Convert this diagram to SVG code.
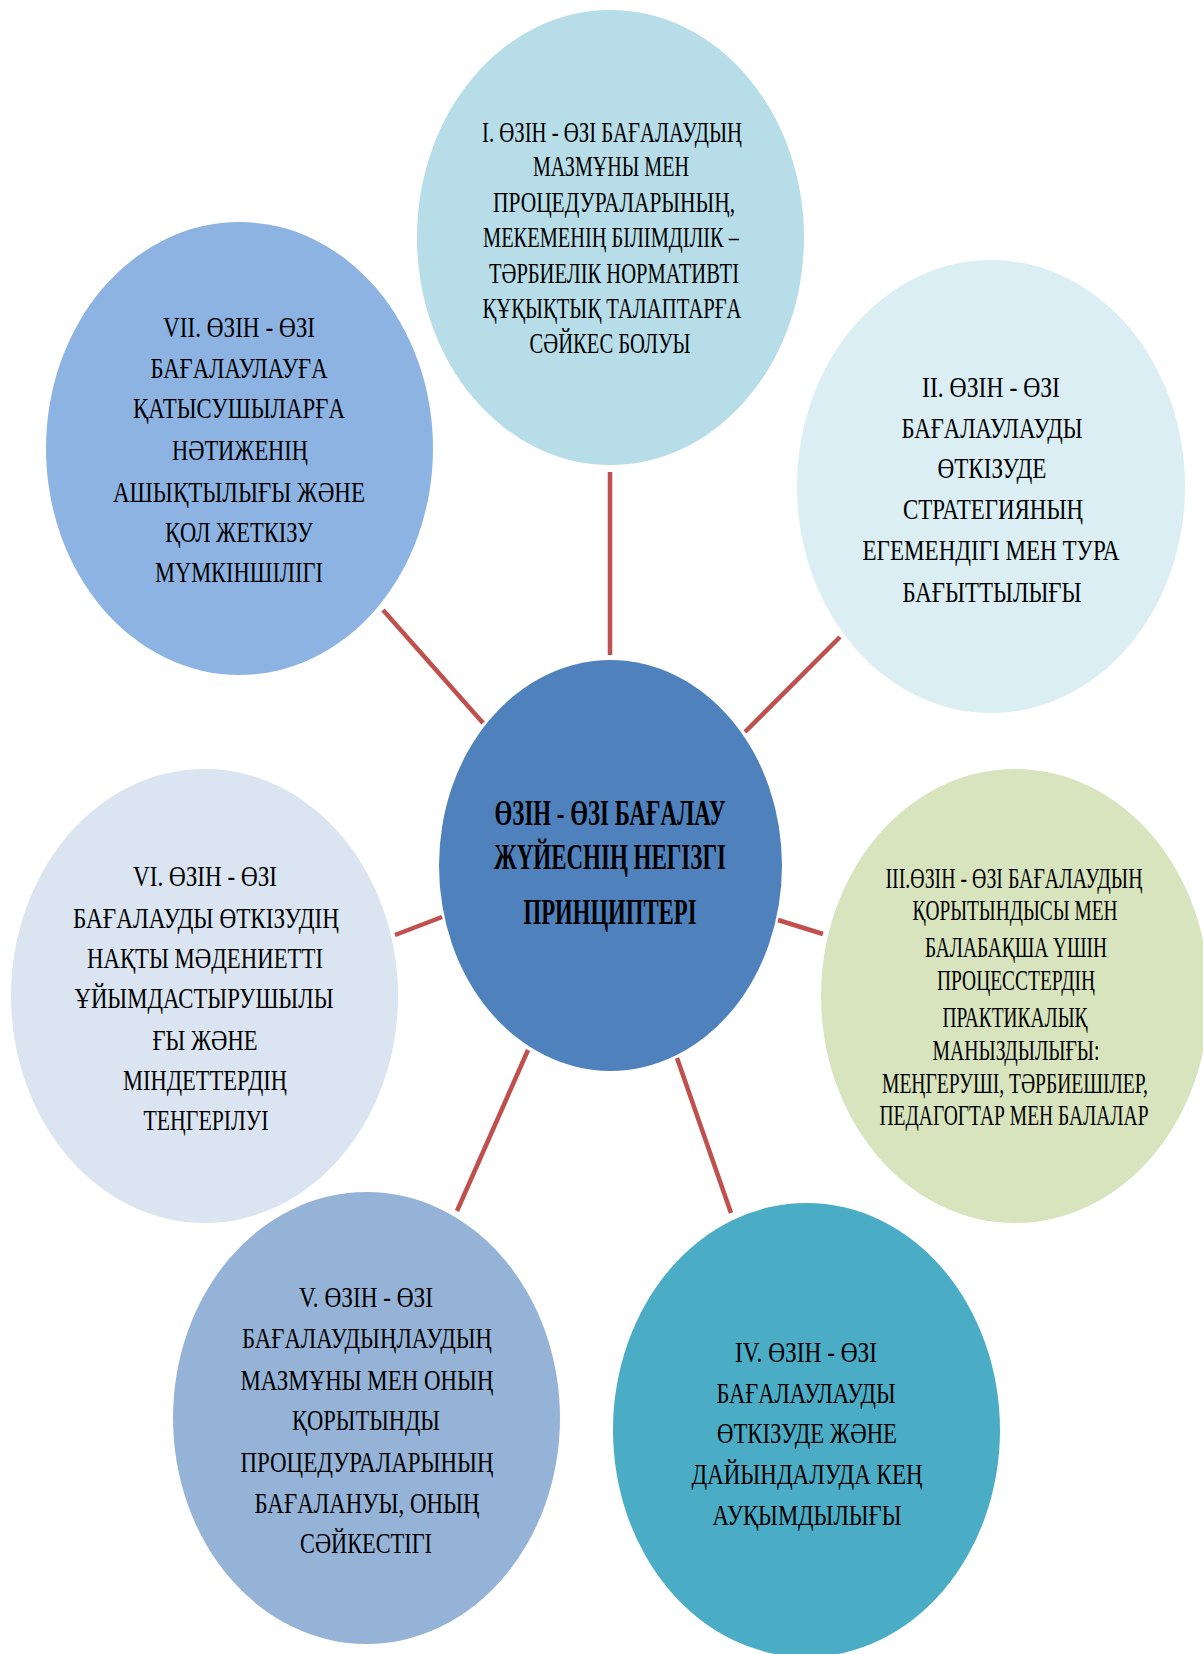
<svg xmlns="http://www.w3.org/2000/svg" width="1203" height="1654" viewBox="0 0 1203 1654">
<style>
.t{font-family:"Liberation Serif","DejaVu Serif",serif;font-size:29px;fill:#000;text-anchor:middle}
.c{font-family:"Liberation Serif","DejaVu Serif",serif;font-size:36px;font-weight:bold;fill:#000;text-anchor:middle}
.ln{stroke:#C0504D;stroke-width:4.5;fill:none}
</style>
<rect width="1203" height="1654" fill="#fff"/>
<g id="connectors">
<line class="ln" x1="610" y1="472" x2="610" y2="655"/>
<line class="ln" x1="840" y1="637" x2="745" y2="732"/>
<line class="ln" x1="383" y1="610" x2="483" y2="723"/>
<line class="ln" x1="778" y1="920" x2="823" y2="934"/>
<line class="ln" x1="395" y1="935" x2="442" y2="917"/>
<line class="ln" x1="528" y1="1050" x2="457" y2="1211"/>
<line class="ln" x1="677" y1="1058" x2="731" y2="1213"/>
</g>
<g id="node-center">
<ellipse cx="610.5" cy="865.5" rx="171.5" ry="205.5" fill="#4F81BD"/>
<text class="c" x="610" y="825" textLength="231" lengthAdjust="spacingAndGlyphs">ӨЗІН - ӨЗІ БАҒАЛАУ</text>
<text class="c" x="610" y="869" textLength="232" lengthAdjust="spacingAndGlyphs">ЖҮЙЕСНІҢ  НЕГІЗГІ</text>
<text class="c" x="610" y="924" textLength="173" lengthAdjust="spacingAndGlyphs">ПРИНЦИПТЕРІ</text>
</g>
<g id="node-1">
<ellipse cx="610.5" cy="237.5" rx="193.5" ry="227.5" fill="#B7DDE8"/>
<text class="t" x="612" y="142" textLength="260" lengthAdjust="spacingAndGlyphs">І. ӨЗІН - ӨЗІ БАҒАЛАУДЫҢ</text>
<text class="t" x="611" y="176" textLength="156" lengthAdjust="spacingAndGlyphs">МАЗМҰНЫ МЕН</text>
<text class="t" x="614" y="212" textLength="242" lengthAdjust="spacingAndGlyphs">ПРОЦЕДУРАЛАРЫНЫҢ,</text>
<text class="t" x="611" y="247" textLength="256" lengthAdjust="spacingAndGlyphs">МЕКЕМЕНІҢ БІЛІМДІЛІК –</text>
<text class="t" x="614" y="283" textLength="250" lengthAdjust="spacingAndGlyphs">ТӘРБИЕЛІК НОРМАТИВТІ</text>
<text class="t" x="612" y="318" textLength="259" lengthAdjust="spacingAndGlyphs">ҚҰҚЫҚТЫҚ ТАЛАПТАРҒА</text>
<text class="t" x="610" y="353" textLength="161" lengthAdjust="spacingAndGlyphs">СӘЙКЕС БОЛУЫ</text>
</g>
<g id="node-2">
<ellipse cx="991" cy="486.5" rx="194" ry="226.5" fill="#DAEEF3"/>
<text class="t" x="991" y="397" textLength="138" lengthAdjust="spacingAndGlyphs">ІІ. ӨЗІН - ӨЗІ</text>
<text class="t" x="992" y="438" textLength="181" lengthAdjust="spacingAndGlyphs">БАҒАЛАУЛАУДЫ</text>
<text class="t" x="992" y="478" textLength="109" lengthAdjust="spacingAndGlyphs">ӨТКІЗУДЕ</text>
<text class="t" x="993" y="519" textLength="180" lengthAdjust="spacingAndGlyphs">СТРАТЕГИЯНЫҢ</text>
<text class="t" x="991" y="560" textLength="257" lengthAdjust="spacingAndGlyphs">ЕГЕМЕНДІГІ  МЕН  ТУРА</text>
<text class="t" x="992" y="602" textLength="179" lengthAdjust="spacingAndGlyphs">БАҒЫТТЫЛЫҒЫ</text>
</g>
<g id="node-3">
<ellipse cx="1015" cy="996" rx="194" ry="227" fill="#D7E4BD"/>
<text class="t" x="1014" y="888" textLength="257" lengthAdjust="spacingAndGlyphs">ІІІ.ӨЗІН - ӨЗІ БАҒАЛАУДЫҢ</text>
<text class="t" x="1015" y="920" textLength="205" lengthAdjust="spacingAndGlyphs">ҚОРЫТЫНДЫСЫ МЕН</text>
<text class="t" x="1016" y="957" textLength="182" lengthAdjust="spacingAndGlyphs">БАЛАБАҚША ҮШІН</text>
<text class="t" x="1016" y="990" textLength="158" lengthAdjust="spacingAndGlyphs">ПРОЦЕССТЕРДІҢ</text>
<text class="t" x="1015" y="1027" textLength="145" lengthAdjust="spacingAndGlyphs">ПРАКТИКАЛЫҚ</text>
<text class="t" x="1016" y="1060" textLength="167" lengthAdjust="spacingAndGlyphs">МАНЫЗДЫЛЫҒЫ:</text>
<text class="t" x="1015" y="1093" textLength="266" lengthAdjust="spacingAndGlyphs">МЕҢГЕРУШІ, ТӘРБИЕШІЛЕР,</text>
<text class="t" x="1014" y="1125" textLength="269" lengthAdjust="spacingAndGlyphs">ПЕДАГОГТАР МЕН БАЛАЛАР</text>
</g>
<g id="node-4">
<ellipse cx="806.5" cy="1430" rx="193.5" ry="227" fill="#4BACC6"/>
<text class="t" x="806" y="1362" textLength="142" lengthAdjust="spacingAndGlyphs">ІV. ӨЗІН - ӨЗІ</text>
<text class="t" x="806" y="1403" textLength="179" lengthAdjust="spacingAndGlyphs">БАҒАЛАУЛАУДЫ</text>
<text class="t" x="807" y="1443" textLength="180" lengthAdjust="spacingAndGlyphs">ӨТКІЗУДЕ  ЖӘНЕ</text>
<text class="t" x="807" y="1484" textLength="231" lengthAdjust="spacingAndGlyphs">ДАЙЫНДАЛУДА  КЕҢ</text>
<text class="t" x="807" y="1525" textLength="189" lengthAdjust="spacingAndGlyphs">АУҚЫМДЫЛЫҒЫ</text>
</g>
<g id="node-5">
<ellipse cx="366.5" cy="1418" rx="193.5" ry="226" fill="#95B3D7"/>
<text class="t" x="366" y="1307" textLength="134" lengthAdjust="spacingAndGlyphs">V. ӨЗІН - ӨЗІ</text>
<text class="t" x="367" y="1348" textLength="250" lengthAdjust="spacingAndGlyphs">БАҒАЛАУДЫҢЛАУДЫҢ</text>
<text class="t" x="367" y="1390" textLength="253" lengthAdjust="spacingAndGlyphs">МАЗМҰНЫ  МЕН  ОНЫҢ</text>
<text class="t" x="366" y="1430" textLength="148" lengthAdjust="spacingAndGlyphs">ҚОРЫТЫНДЫ</text>
<text class="t" x="367" y="1472" textLength="253" lengthAdjust="spacingAndGlyphs">ПРОЦЕДУРАЛАРЫНЫҢ</text>
<text class="t" x="367" y="1513" textLength="225" lengthAdjust="spacingAndGlyphs">БАҒАЛАНУЫ,  ОНЫҢ</text>
<text class="t" x="366" y="1553" textLength="132" lengthAdjust="spacingAndGlyphs">СӘЙКЕСТІГІ</text>
</g>
<g id="node-6">
<ellipse cx="204.5" cy="996" rx="193.5" ry="227" fill="#DBE5F1"/>
<text class="t" x="205" y="886" textLength="144" lengthAdjust="spacingAndGlyphs">VI. ӨЗІН - ӨЗІ</text>
<text class="t" x="206" y="928" textLength="266" lengthAdjust="spacingAndGlyphs">БАҒАЛАУДЫ  ӨТКІЗУДІҢ</text>
<text class="t" x="205" y="968" textLength="236" lengthAdjust="spacingAndGlyphs">НАҚТЫ  МӘДЕНИЕТТІ</text>
<text class="t" x="204" y="1008" textLength="259" lengthAdjust="spacingAndGlyphs">ҰЙЫМДАСТЫРУШЫЛЫ</text>
<text class="t" x="205" y="1050" textLength="105" lengthAdjust="spacingAndGlyphs">ҒЫ ЖӘНЕ</text>
<text class="t" x="205" y="1090" textLength="164" lengthAdjust="spacingAndGlyphs">МІНДЕТТЕРДІҢ</text>
<text class="t" x="206" y="1130" textLength="125" lengthAdjust="spacingAndGlyphs">ТЕҢГЕРІЛУІ</text>
</g>
<g id="node-7">
<ellipse cx="239.5" cy="448.5" rx="193.5" ry="226.5" fill="#8DB3E2"/>
<text class="t" x="239" y="337" textLength="152" lengthAdjust="spacingAndGlyphs">VII. ӨЗІН - ӨЗІ</text>
<text class="t" x="239" y="378" textLength="177" lengthAdjust="spacingAndGlyphs">БАҒАЛАУЛАУҒА</text>
<text class="t" x="239" y="418" textLength="212" lengthAdjust="spacingAndGlyphs">ҚАТЫСУШЫЛАРҒА</text>
<text class="t" x="240" y="460" textLength="136" lengthAdjust="spacingAndGlyphs">НӘТИЖЕНІҢ</text>
<text class="t" x="239" y="502" textLength="252" lengthAdjust="spacingAndGlyphs">АШЫҚТЫЛЫҒЫ  ЖӘНЕ</text>
<text class="t" x="239" y="542" textLength="148" lengthAdjust="spacingAndGlyphs">ҚОЛ ЖЕТКІЗУ</text>
<text class="t" x="239" y="582" textLength="168" lengthAdjust="spacingAndGlyphs">МҮМКІНШІЛІГІ</text>
</g>
</svg>
